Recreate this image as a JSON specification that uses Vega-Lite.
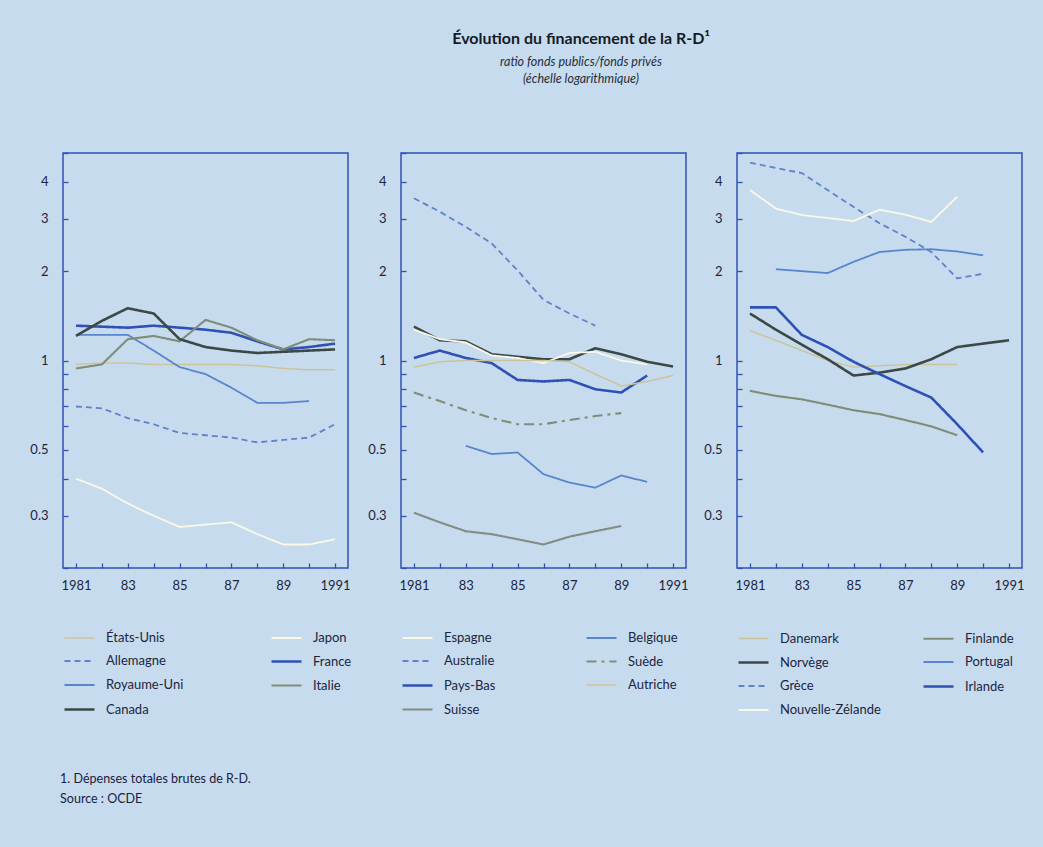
{
  "$schema": "https://vega.github.io/schema/vega-lite/v6.json",
  "background": "#c6dcee",
  "padding": {"left": 29, "top": 30, "right": 20, "bottom": 48},
  "title": {
    "text": "Évolution du financement de la R-D¹",
    "subtitle": ["ratio fonds publics/fonds privés", "(échelle logarithmique)"],
    "anchor": "middle",
    "dx": 54,
    "font": "Lato",
    "fontSize": 16,
    "fontWeight": "bold",
    "color": "#161a22",
    "subtitleFont": "Lato",
    "subtitleFontStyle": "italic",
    "subtitleFontSize": 12.5,
    "subtitleColor": "#262c3c",
    "subtitlePadding": 9,
    "subtitleLineHeight": 17,
    "offset": 61
  },
  "datasets": {
    "series": [
      {"p": 1, "pays": "États-Unis", "annee": 1981, "ratio": 0.97},
      {"p": 1, "pays": "États-Unis", "annee": 1982, "ratio": 0.98},
      {"p": 1, "pays": "États-Unis", "annee": 1983, "ratio": 0.98},
      {"p": 1, "pays": "États-Unis", "annee": 1984, "ratio": 0.97},
      {"p": 1, "pays": "États-Unis", "annee": 1985, "ratio": 0.97},
      {"p": 1, "pays": "États-Unis", "annee": 1986, "ratio": 0.97},
      {"p": 1, "pays": "États-Unis", "annee": 1987, "ratio": 0.97},
      {"p": 1, "pays": "États-Unis", "annee": 1988, "ratio": 0.96},
      {"p": 1, "pays": "États-Unis", "annee": 1989, "ratio": 0.94},
      {"p": 1, "pays": "États-Unis", "annee": 1990, "ratio": 0.93},
      {"p": 1, "pays": "États-Unis", "annee": 1991, "ratio": 0.93},
      {"p": 1, "pays": "Japon", "annee": 1981, "ratio": 0.40},
      {"p": 1, "pays": "Japon", "annee": 1982, "ratio": 0.37},
      {"p": 1, "pays": "Japon", "annee": 1983, "ratio": 0.33},
      {"p": 1, "pays": "Japon", "annee": 1984, "ratio": 0.30},
      {"p": 1, "pays": "Japon", "annee": 1985, "ratio": 0.275},
      {"p": 1, "pays": "Japon", "annee": 1986, "ratio": 0.28},
      {"p": 1, "pays": "Japon", "annee": 1987, "ratio": 0.285},
      {"p": 1, "pays": "Japon", "annee": 1988, "ratio": 0.26},
      {"p": 1, "pays": "Japon", "annee": 1989, "ratio": 0.24},
      {"p": 1, "pays": "Japon", "annee": 1990, "ratio": 0.24},
      {"p": 1, "pays": "Japon", "annee": 1991, "ratio": 0.25},
      {"p": 1, "pays": "Allemagne", "annee": 1981, "ratio": 0.70},
      {"p": 1, "pays": "Allemagne", "annee": 1982, "ratio": 0.69},
      {"p": 1, "pays": "Allemagne", "annee": 1983, "ratio": 0.64},
      {"p": 1, "pays": "Allemagne", "annee": 1984, "ratio": 0.61},
      {"p": 1, "pays": "Allemagne", "annee": 1985, "ratio": 0.57},
      {"p": 1, "pays": "Allemagne", "annee": 1986, "ratio": 0.56},
      {"p": 1, "pays": "Allemagne", "annee": 1987, "ratio": 0.55},
      {"p": 1, "pays": "Allemagne", "annee": 1988, "ratio": 0.53},
      {"p": 1, "pays": "Allemagne", "annee": 1989, "ratio": 0.54},
      {"p": 1, "pays": "Allemagne", "annee": 1990, "ratio": 0.55},
      {"p": 1, "pays": "Allemagne", "annee": 1991, "ratio": 0.61},
      {"p": 1, "pays": "France", "annee": 1981, "ratio": 1.31},
      {"p": 1, "pays": "France", "annee": 1982, "ratio": 1.30},
      {"p": 1, "pays": "France", "annee": 1983, "ratio": 1.29},
      {"p": 1, "pays": "France", "annee": 1984, "ratio": 1.31},
      {"p": 1, "pays": "France", "annee": 1985, "ratio": 1.29},
      {"p": 1, "pays": "France", "annee": 1986, "ratio": 1.27},
      {"p": 1, "pays": "France", "annee": 1987, "ratio": 1.24},
      {"p": 1, "pays": "France", "annee": 1988, "ratio": 1.16},
      {"p": 1, "pays": "France", "annee": 1989, "ratio": 1.09},
      {"p": 1, "pays": "France", "annee": 1990, "ratio": 1.11},
      {"p": 1, "pays": "France", "annee": 1991, "ratio": 1.14},
      {"p": 1, "pays": "Royaume-Uni", "annee": 1981, "ratio": 1.22},
      {"p": 1, "pays": "Royaume-Uni", "annee": 1982, "ratio": 1.22},
      {"p": 1, "pays": "Royaume-Uni", "annee": 1983, "ratio": 1.22},
      {"p": 1, "pays": "Royaume-Uni", "annee": 1984, "ratio": 1.08},
      {"p": 1, "pays": "Royaume-Uni", "annee": 1985, "ratio": 0.95},
      {"p": 1, "pays": "Royaume-Uni", "annee": 1986, "ratio": 0.90},
      {"p": 1, "pays": "Royaume-Uni", "annee": 1987, "ratio": 0.81},
      {"p": 1, "pays": "Royaume-Uni", "annee": 1988, "ratio": 0.72},
      {"p": 1, "pays": "Royaume-Uni", "annee": 1989, "ratio": 0.72},
      {"p": 1, "pays": "Royaume-Uni", "annee": 1990, "ratio": 0.73},
      {"p": 1, "pays": "Italie", "annee": 1981, "ratio": 0.94},
      {"p": 1, "pays": "Italie", "annee": 1982, "ratio": 0.97},
      {"p": 1, "pays": "Italie", "annee": 1983, "ratio": 1.18},
      {"p": 1, "pays": "Italie", "annee": 1984, "ratio": 1.21},
      {"p": 1, "pays": "Italie", "annee": 1985, "ratio": 1.16},
      {"p": 1, "pays": "Italie", "annee": 1986, "ratio": 1.37},
      {"p": 1, "pays": "Italie", "annee": 1987, "ratio": 1.29},
      {"p": 1, "pays": "Italie", "annee": 1988, "ratio": 1.17},
      {"p": 1, "pays": "Italie", "annee": 1989, "ratio": 1.09},
      {"p": 1, "pays": "Italie", "annee": 1990, "ratio": 1.18},
      {"p": 1, "pays": "Italie", "annee": 1991, "ratio": 1.17},
      {"p": 1, "pays": "Canada", "annee": 1981, "ratio": 1.21},
      {"p": 1, "pays": "Canada", "annee": 1982, "ratio": 1.36},
      {"p": 1, "pays": "Canada", "annee": 1983, "ratio": 1.50},
      {"p": 1, "pays": "Canada", "annee": 1984, "ratio": 1.44},
      {"p": 1, "pays": "Canada", "annee": 1985, "ratio": 1.18},
      {"p": 1, "pays": "Canada", "annee": 1986, "ratio": 1.11},
      {"p": 1, "pays": "Canada", "annee": 1987, "ratio": 1.08},
      {"p": 1, "pays": "Canada", "annee": 1988, "ratio": 1.06},
      {"p": 1, "pays": "Canada", "annee": 1989, "ratio": 1.07},
      {"p": 1, "pays": "Canada", "annee": 1990, "ratio": 1.08},
      {"p": 1, "pays": "Canada", "annee": 1991, "ratio": 1.09},

      {"p": 2, "pays": "Espagne", "annee": 1981, "ratio": 1.27},
      {"p": 2, "pays": "Espagne", "annee": 1982, "ratio": 1.18},
      {"p": 2, "pays": "Espagne", "annee": 1983, "ratio": 1.15},
      {"p": 2, "pays": "Espagne", "annee": 1984, "ratio": 1.04},
      {"p": 2, "pays": "Espagne", "annee": 1985, "ratio": 1.02},
      {"p": 2, "pays": "Espagne", "annee": 1986, "ratio": 0.98},
      {"p": 2, "pays": "Espagne", "annee": 1987, "ratio": 1.06},
      {"p": 2, "pays": "Espagne", "annee": 1988, "ratio": 1.07},
      {"p": 2, "pays": "Espagne", "annee": 1989, "ratio": 1.0},
      {"p": 2, "pays": "Espagne", "annee": 1990, "ratio": 0.97},
      {"p": 2, "pays": "Australie", "annee": 1981, "ratio": 3.52},
      {"p": 2, "pays": "Australie", "annee": 1982, "ratio": 3.17},
      {"p": 2, "pays": "Australie", "annee": 1983, "ratio": 2.82},
      {"p": 2, "pays": "Australie", "annee": 1984, "ratio": 2.48},
      {"p": 2, "pays": "Australie", "annee": 1985, "ratio": 2.01},
      {"p": 2, "pays": "Australie", "annee": 1986, "ratio": 1.60},
      {"p": 2, "pays": "Australie", "annee": 1987, "ratio": 1.44},
      {"p": 2, "pays": "Australie", "annee": 1988, "ratio": 1.31},
      {"p": 2, "pays": "Pays-Bas", "annee": 1981, "ratio": 1.02},
      {"p": 2, "pays": "Pays-Bas", "annee": 1982, "ratio": 1.08},
      {"p": 2, "pays": "Pays-Bas", "annee": 1983, "ratio": 1.02},
      {"p": 2, "pays": "Pays-Bas", "annee": 1984, "ratio": 0.98},
      {"p": 2, "pays": "Pays-Bas", "annee": 1985, "ratio": 0.86},
      {"p": 2, "pays": "Pays-Bas", "annee": 1986, "ratio": 0.85},
      {"p": 2, "pays": "Pays-Bas", "annee": 1987, "ratio": 0.86},
      {"p": 2, "pays": "Pays-Bas", "annee": 1988, "ratio": 0.80},
      {"p": 2, "pays": "Pays-Bas", "annee": 1989, "ratio": 0.78},
      {"p": 2, "pays": "Pays-Bas", "annee": 1990, "ratio": 0.89},
      {"p": 2, "pays": "Suisse", "annee": 1981, "ratio": 0.307},
      {"p": 2, "pays": "Suisse", "annee": 1982, "ratio": 0.285},
      {"p": 2, "pays": "Suisse", "annee": 1983, "ratio": 0.266},
      {"p": 2, "pays": "Suisse", "annee": 1984, "ratio": 0.26},
      {"p": 2, "pays": "Suisse", "annee": 1985, "ratio": 0.25},
      {"p": 2, "pays": "Suisse", "annee": 1986, "ratio": 0.24},
      {"p": 2, "pays": "Suisse", "annee": 1987, "ratio": 0.255},
      {"p": 2, "pays": "Suisse", "annee": 1988, "ratio": 0.266},
      {"p": 2, "pays": "Suisse", "annee": 1989, "ratio": 0.277},
      {"p": 2, "pays": "Belgique", "annee": 1983, "ratio": 0.516},
      {"p": 2, "pays": "Belgique", "annee": 1984, "ratio": 0.484},
      {"p": 2, "pays": "Belgique", "annee": 1985, "ratio": 0.49},
      {"p": 2, "pays": "Belgique", "annee": 1986, "ratio": 0.414},
      {"p": 2, "pays": "Belgique", "annee": 1987, "ratio": 0.388},
      {"p": 2, "pays": "Belgique", "annee": 1988, "ratio": 0.373},
      {"p": 2, "pays": "Belgique", "annee": 1989, "ratio": 0.41},
      {"p": 2, "pays": "Belgique", "annee": 1990, "ratio": 0.39},
      {"p": 2, "pays": "Suède", "annee": 1981, "ratio": 0.78},
      {"p": 2, "pays": "Suède", "annee": 1982, "ratio": 0.73},
      {"p": 2, "pays": "Suède", "annee": 1983, "ratio": 0.68},
      {"p": 2, "pays": "Suède", "annee": 1984, "ratio": 0.64},
      {"p": 2, "pays": "Suède", "annee": 1985, "ratio": 0.61},
      {"p": 2, "pays": "Suède", "annee": 1986, "ratio": 0.61},
      {"p": 2, "pays": "Suède", "annee": 1987, "ratio": 0.63},
      {"p": 2, "pays": "Suède", "annee": 1988, "ratio": 0.65},
      {"p": 2, "pays": "Suède", "annee": 1989, "ratio": 0.665},
      {"p": 2, "pays": "Autriche", "annee": 1981, "ratio": 0.95},
      {"p": 2, "pays": "Autriche", "annee": 1982, "ratio": 0.99},
      {"p": 2, "pays": "Autriche", "annee": 1983, "ratio": 1.0},
      {"p": 2, "pays": "Autriche", "annee": 1984, "ratio": 1.0},
      {"p": 2, "pays": "Autriche", "annee": 1985, "ratio": 1.0},
      {"p": 2, "pays": "Autriche", "annee": 1986, "ratio": 1.0},
      {"p": 2, "pays": "Autriche", "annee": 1987, "ratio": 0.99},
      {"p": 2, "pays": "Autriche", "annee": 1988, "ratio": 0.90},
      {"p": 2, "pays": "Autriche", "annee": 1989, "ratio": 0.82},
      {"p": 2, "pays": "Autriche", "annee": 1990, "ratio": 0.85},
      {"p": 2, "pays": "Autriche", "annee": 1991, "ratio": 0.89},

      {"p": 3, "pays": "Danemark", "annee": 1981, "ratio": 1.26},
      {"p": 3, "pays": "Danemark", "annee": 1982, "ratio": 1.17},
      {"p": 3, "pays": "Danemark", "annee": 1983, "ratio": 1.08},
      {"p": 3, "pays": "Danemark", "annee": 1984, "ratio": 1.0},
      {"p": 3, "pays": "Danemark", "annee": 1985, "ratio": 0.95},
      {"p": 3, "pays": "Danemark", "annee": 1986, "ratio": 0.96},
      {"p": 3, "pays": "Danemark", "annee": 1987, "ratio": 0.97},
      {"p": 3, "pays": "Danemark", "annee": 1988, "ratio": 0.97},
      {"p": 3, "pays": "Danemark", "annee": 1989, "ratio": 0.97},
      {"p": 3, "pays": "Norvège", "annee": 1981, "ratio": 1.44},
      {"p": 3, "pays": "Norvège", "annee": 1982, "ratio": 1.27},
      {"p": 3, "pays": "Norvège", "annee": 1983, "ratio": 1.13},
      {"p": 3, "pays": "Norvège", "annee": 1984, "ratio": 1.01},
      {"p": 3, "pays": "Norvège", "annee": 1985, "ratio": 0.89},
      {"p": 3, "pays": "Norvège", "annee": 1986, "ratio": 0.91},
      {"p": 3, "pays": "Norvège", "annee": 1987, "ratio": 0.94},
      {"p": 3, "pays": "Norvège", "annee": 1988, "ratio": 1.01},
      {"p": 3, "pays": "Norvège", "annee": 1989, "ratio": 1.11},
      {"p": 3, "pays": "Norvège", "annee": 1990, "ratio": 1.14},
      {"p": 3, "pays": "Norvège", "annee": 1991, "ratio": 1.17},
      {"p": 3, "pays": "Grèce", "annee": 1981, "ratio": 4.64},
      {"p": 3, "pays": "Grèce", "annee": 1982, "ratio": 4.45},
      {"p": 3, "pays": "Grèce", "annee": 1983, "ratio": 4.28},
      {"p": 3, "pays": "Grèce", "annee": 1984, "ratio": 3.75},
      {"p": 3, "pays": "Grèce", "annee": 1985, "ratio": 3.29},
      {"p": 3, "pays": "Grèce", "annee": 1986, "ratio": 2.9},
      {"p": 3, "pays": "Grèce", "annee": 1987, "ratio": 2.61},
      {"p": 3, "pays": "Grèce", "annee": 1988, "ratio": 2.32},
      {"p": 3, "pays": "Grèce", "annee": 1989, "ratio": 1.89},
      {"p": 3, "pays": "Grèce", "annee": 1990, "ratio": 1.96},
      {"p": 3, "pays": "Nouvelle-Zélande", "annee": 1981, "ratio": 3.75},
      {"p": 3, "pays": "Nouvelle-Zélande", "annee": 1982, "ratio": 3.25},
      {"p": 3, "pays": "Nouvelle-Zélande", "annee": 1983, "ratio": 3.09},
      {"p": 3, "pays": "Nouvelle-Zélande", "annee": 1984, "ratio": 3.02},
      {"p": 3, "pays": "Nouvelle-Zélande", "annee": 1985, "ratio": 2.95},
      {"p": 3, "pays": "Nouvelle-Zélande", "annee": 1986, "ratio": 3.22},
      {"p": 3, "pays": "Nouvelle-Zélande", "annee": 1987, "ratio": 3.1},
      {"p": 3, "pays": "Nouvelle-Zélande", "annee": 1988, "ratio": 2.93},
      {"p": 3, "pays": "Nouvelle-Zélande", "annee": 1989, "ratio": 3.56},
      {"p": 3, "pays": "Finlande", "annee": 1981, "ratio": 0.79},
      {"p": 3, "pays": "Finlande", "annee": 1982, "ratio": 0.76},
      {"p": 3, "pays": "Finlande", "annee": 1983, "ratio": 0.74},
      {"p": 3, "pays": "Finlande", "annee": 1984, "ratio": 0.71},
      {"p": 3, "pays": "Finlande", "annee": 1985, "ratio": 0.68},
      {"p": 3, "pays": "Finlande", "annee": 1986, "ratio": 0.66},
      {"p": 3, "pays": "Finlande", "annee": 1987, "ratio": 0.63},
      {"p": 3, "pays": "Finlande", "annee": 1988, "ratio": 0.60},
      {"p": 3, "pays": "Finlande", "annee": 1989, "ratio": 0.56},
      {"p": 3, "pays": "Portugal", "annee": 1982, "ratio": 2.03},
      {"p": 3, "pays": "Portugal", "annee": 1983, "ratio": 2.0},
      {"p": 3, "pays": "Portugal", "annee": 1984, "ratio": 1.97},
      {"p": 3, "pays": "Portugal", "annee": 1985, "ratio": 2.15},
      {"p": 3, "pays": "Portugal", "annee": 1986, "ratio": 2.32},
      {"p": 3, "pays": "Portugal", "annee": 1987, "ratio": 2.36},
      {"p": 3, "pays": "Portugal", "annee": 1988, "ratio": 2.37},
      {"p": 3, "pays": "Portugal", "annee": 1989, "ratio": 2.33},
      {"p": 3, "pays": "Portugal", "annee": 1990, "ratio": 2.26},
      {"p": 3, "pays": "Irlande", "annee": 1981, "ratio": 1.51},
      {"p": 3, "pays": "Irlande", "annee": 1982, "ratio": 1.51},
      {"p": 3, "pays": "Irlande", "annee": 1983, "ratio": 1.22},
      {"p": 3, "pays": "Irlande", "annee": 1984, "ratio": 1.11},
      {"p": 3, "pays": "Irlande", "annee": 1985, "ratio": 0.99},
      {"p": 3, "pays": "Irlande", "annee": 1986, "ratio": 0.90},
      {"p": 3, "pays": "Irlande", "annee": 1987, "ratio": 0.82},
      {"p": 3, "pays": "Irlande", "annee": 1988, "ratio": 0.75},
      {"p": 3, "pays": "Irlande", "annee": 1989, "ratio": 0.61},
      {"p": 3, "pays": "Irlande", "annee": 1990, "ratio": 0.49}
    ],
    "sanslegende": [
      {"p": 2, "pays": "Série non légendée", "annee": 1981, "ratio": 1.30},
      {"p": 2, "pays": "Série non légendée", "annee": 1982, "ratio": 1.17},
      {"p": 2, "pays": "Série non légendée", "annee": 1983, "ratio": 1.16},
      {"p": 2, "pays": "Série non légendée", "annee": 1984, "ratio": 1.05},
      {"p": 2, "pays": "Série non légendée", "annee": 1985, "ratio": 1.03},
      {"p": 2, "pays": "Série non légendée", "annee": 1986, "ratio": 1.01},
      {"p": 2, "pays": "Série non légendée", "annee": 1987, "ratio": 1.01},
      {"p": 2, "pays": "Série non légendée", "annee": 1988, "ratio": 1.10},
      {"p": 2, "pays": "Série non légendée", "annee": 1989, "ratio": 1.05},
      {"p": 2, "pays": "Série non légendée", "annee": 1990, "ratio": 0.99},
      {"p": 2, "pays": "Série non légendée", "annee": 1991, "ratio": 0.955}
    ]
  },
  "vconcat": [
    {
      "title": {
        "text": "1. Dépenses totales brutes de R-D.",
        "subtitle": "Source : OCDE",
        "orient": "bottom",
        "anchor": "start",
        "dx": 31,
        "font": "Lato",
        "fontSize": 12.5,
        "fontWeight": "normal",
        "color": "#1a2040",
        "subtitleFont": "Lato",
        "subtitleFontSize": 12.5,
        "subtitleColor": "#1a2040",
        "subtitlePadding": 8,
        "offset": 55
      },
      "spacing": 14,
      "resolve": {"scale": {"color": "independent", "strokeDash": "independent", "strokeWidth": "independent"}},
      "hconcat": [
        {
          "width": 285,
          "height": 415,
          "layer": [
            {
              "data": {"name": "series"},
              "transform": [{"filter": "datum.p == 1"}],
              "mark": {"type": "line", "strokeJoin": "round"},
              "encoding": {
                "x": {"field": "annee", "type": "quantitative", "scale": {"domain": [1980.5, 1991.5], "nice": false, "zero": false}, "axis": {"title": null}},
                "y": {"field": "ratio", "type": "quantitative", "scale": {"type": "log", "domain": [0.2, 5], "nice": false}, "axis": {"title": null}},
                "color": {"field": "pays", "type": "nominal",
                  "legend": {"columnPadding": 82},
                  "scale": {"domain": ["États-Unis", "Allemagne", "Royaume-Uni", "Canada", "Japon", "France", "Italie"],
                            "range": ["#cdc39a", "#5f82c8", "#5a84cc", "#3c4845", "#fbf8e6", "#2f50b4", "#7f8d78"]}},
                "strokeDash": {"field": "pays", "type": "nominal",
                  "scale": {"domain": ["États-Unis", "Allemagne", "Royaume-Uni", "Canada", "Japon", "France", "Italie"],
                            "range": [[1, 0], [6, 4], [1, 0], [1, 0], [1, 0], [1, 0], [1, 0]]}},
                "strokeWidth": {"field": "pays", "type": "nominal",
                  "scale": {"type": "ordinal", "domain": ["États-Unis", "Allemagne", "Royaume-Uni", "Canada", "Japon", "France", "Italie"],
                            "range": [1.5, 1.8, 1.8, 2.6, 1.8, 2.6, 2.1]}}
              }
            },
            {"mark": {"type": "rule", "color": "#2f50b4", "strokeWidth": 1.5}, "encoding": {"y": {"datum": 1, "type": "quantitative"}}}
          ]
        },
        {
          "width": 285,
          "height": 415,
          "layer": [
            {
              "data": {"name": "sanslegende"},
              "mark": {"type": "line", "color": "#3c4845", "strokeWidth": 2.6, "strokeJoin": "round"},
              "encoding": {
                "x": {"field": "annee", "type": "quantitative", "scale": {"domain": [1980.5, 1991.5], "nice": false, "zero": false}, "axis": {"title": null}},
                "y": {"field": "ratio", "type": "quantitative", "scale": {"type": "log", "domain": [0.2, 5], "nice": false}, "axis": {"title": null}}
              }
            },
            {
              "data": {"name": "series"},
              "transform": [{"filter": "datum.p == 2"}],
              "mark": {"type": "line", "strokeJoin": "round"},
              "encoding": {
                "x": {"field": "annee", "type": "quantitative"},
                "y": {"field": "ratio", "type": "quantitative"},
                "color": {"field": "pays", "type": "nominal",
                  "legend": {"columnPadding": 86},
                  "scale": {"domain": ["Espagne", "Australie", "Pays-Bas", "Suisse", "Belgique", "Suède", "Autriche"],
                            "range": ["#fbf8e6", "#5f82c8", "#2f50b4", "#858c84", "#5a84cc", "#7f8d78", "#cdc39a"]}},
                "strokeDash": {"field": "pays", "type": "nominal",
                  "scale": {"domain": ["Espagne", "Australie", "Pays-Bas", "Suisse", "Belgique", "Suède", "Autriche"],
                            "range": [[1, 0], [6, 4], [1, 0], [1, 0], [1, 0], [10, 5, 3, 5], [1, 0]]}},
                "strokeWidth": {"field": "pays", "type": "nominal",
                  "scale": {"type": "ordinal", "domain": ["Espagne", "Australie", "Pays-Bas", "Suisse", "Belgique", "Suède", "Autriche"],
                            "range": [1.8, 1.8, 2.6, 2.1, 1.8, 2.1, 1.5]}}
              }
            },
            {"mark": {"type": "rule", "color": "#2f50b4", "strokeWidth": 1.5}, "encoding": {"y": {"datum": 1, "type": "quantitative"}}}
          ]
        },
        {
          "width": 285,
          "height": 415,
          "layer": [
            {
              "data": {"name": "series"},
              "transform": [{"filter": "datum.p == 3"}],
              "mark": {"type": "line", "strokeJoin": "round"},
              "encoding": {
                "x": {"field": "annee", "type": "quantitative", "scale": {"domain": [1980.5, 1991.5], "nice": false, "zero": false}, "axis": {"title": null}},
                "y": {"field": "ratio", "type": "quantitative", "scale": {"type": "log", "domain": [0.2, 5], "nice": false}, "axis": {"title": null}},
                "color": {"field": "pays", "type": "nominal",
                  "legend": {"columnPadding": 37},
                  "scale": {"domain": ["Danemark", "Norvège", "Grèce", "Nouvelle-Zélande", "Finlande", "Portugal", "Irlande"],
                            "range": ["#cdc39a", "#3c4845", "#5f82c8", "#fbf8e6", "#7f8d78", "#5a84cc", "#2f50b4"]}},
                "strokeDash": {"field": "pays", "type": "nominal",
                  "scale": {"domain": ["Danemark", "Norvège", "Grèce", "Nouvelle-Zélande", "Finlande", "Portugal", "Irlande"],
                            "range": [[1, 0], [1, 0], [6, 4], [1, 0], [1, 0], [1, 0], [1, 0]]}},
                "strokeWidth": {"field": "pays", "type": "nominal",
                  "scale": {"type": "ordinal", "domain": ["Danemark", "Norvège", "Grèce", "Nouvelle-Zélande", "Finlande", "Portugal", "Irlande"],
                            "range": [1.5, 2.6, 1.8, 1.8, 2.1, 1.8, 2.6]}}
              }
            },
            {"mark": {"type": "rule", "color": "#2f50b4", "strokeWidth": 1.5}, "encoding": {"y": {"datum": 1, "type": "quantitative"}}}
          ]
        }
      ]
    }
  ],
  "config": {
    "font": "Lato",
    "view": {"stroke": "#2f50b4", "strokeWidth": 1.5},
    "axis": {
      "grid": false,
      "domain": false,
      "ticks": true,
      "tickColor": "#2f50b4",
      "tickWidth": 1.3,
      "tickSize": -5,
      "labelFont": "Lato",
      "labelFontSize": 13,
      "labelColor": "#1c2440",
      "labelOverlap": false,
      "labelFlush": false
    },
    "axisX": {
      "values": [1981, 1982, 1983, 1984, 1985, 1986, 1987, 1988, 1989, 1990, 1991],
      "format": "d",
      "labelExpr": "datum.value % 2 == 0 ? '' : ((datum.value == 1981 || datum.value == 1991) ? datum.label : slice(datum.label, 2))",
      "labelPadding": 16
    },
    "axisY": {
      "values": [0.3, 0.4, 0.5, 0.6, 0.7, 0.8, 0.9, 1, 2, 3, 4],
      "format": "~g",
      "labelExpr": "indexof([0.3, 0.5, 1, 2, 3, 4], datum.value) >= 0 ? datum.label : ''",
      "labelPadding": 20
    },
    "legend": {
      "title": null,
      "orient": "bottom",
      "direction": "vertical",
      "columns": 2,
      "rowPadding": -10,
      "symbolType": "stroke",
      "symbolSize": 900,
      "labelFont": "Lato",
      "labelFontSize": 13,
      "labelColor": "#1c2440",
      "labelOffset": 10,
      "offset": 30
    }
  }
}
